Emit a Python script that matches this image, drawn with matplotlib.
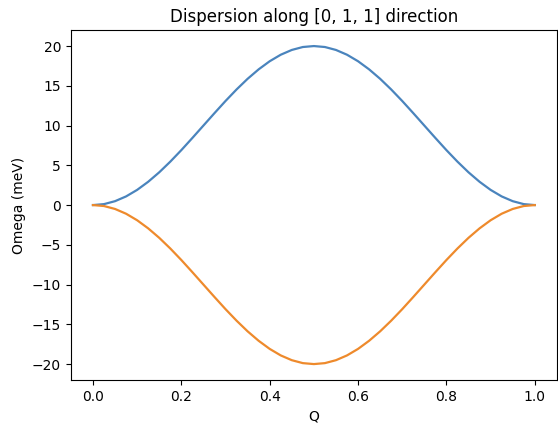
import matplotlib
matplotlib.use("Agg")
import matplotlib.pyplot as plt

# Q points along [0, 1, 1] and the two branches (meV)
q = [0.0, 0.025, 0.05, 0.075, 0.1, 0.125, 0.15, 0.175, 0.2, 0.225,
     0.25, 0.275, 0.3, 0.325, 0.35, 0.375, 0.4, 0.425, 0.45, 0.475,
     0.5, 0.525, 0.55, 0.575, 0.6, 0.625, 0.65, 0.675, 0.7, 0.725,
     0.75, 0.775, 0.8, 0.825, 0.85, 0.875, 0.9, 0.925, 0.95, 0.975, 1.0]
omega_up = [0.0, 0.12, 0.49, 1.09, 1.91, 2.93, 4.12, 5.46, 6.91, 8.44,
            10.0, 11.56, 13.09, 14.54, 15.88, 17.07, 18.09, 18.91, 19.51, 19.88,
            20.0, 19.88, 19.51, 18.91, 18.09, 17.07, 15.88, 14.54, 13.09, 11.56,
            10.0, 8.44, 6.91, 5.46, 4.12, 2.93, 1.91, 1.09, 0.49, 0.12, 0.0]
omega_down = [0.0, -0.12, -0.49, -1.09, -1.91, -2.93, -4.12, -5.46, -6.91, -8.44,
              -10.0, -11.56, -13.09, -14.54, -15.88, -17.07, -18.09, -18.91, -19.51, -19.88,
              -20.0, -19.88, -19.51, -18.91, -18.09, -17.07, -15.88, -14.54, -13.09, -11.56,
              -10.0, -8.44, -6.91, -5.46, -4.12, -2.93, -1.91, -1.09, -0.49, -0.12, 0.0]

fig = plt.figure(figsize=(5.58, 4.23), dpi=100)
ax = fig.add_axes([0.127, 0.1017, 0.871, 0.827])

ax.plot(q, omega_up, color="#4a84bd", lw=1.6)
ax.plot(q, omega_down, color="#ee8a2c", lw=1.6)

ax.set_title("Dispersion along [0, 1, 1] direction")
ax.set_xlabel("Q")
ax.set_ylabel("Omega (meV)")

fig.savefig("out.png", dpi=100)
